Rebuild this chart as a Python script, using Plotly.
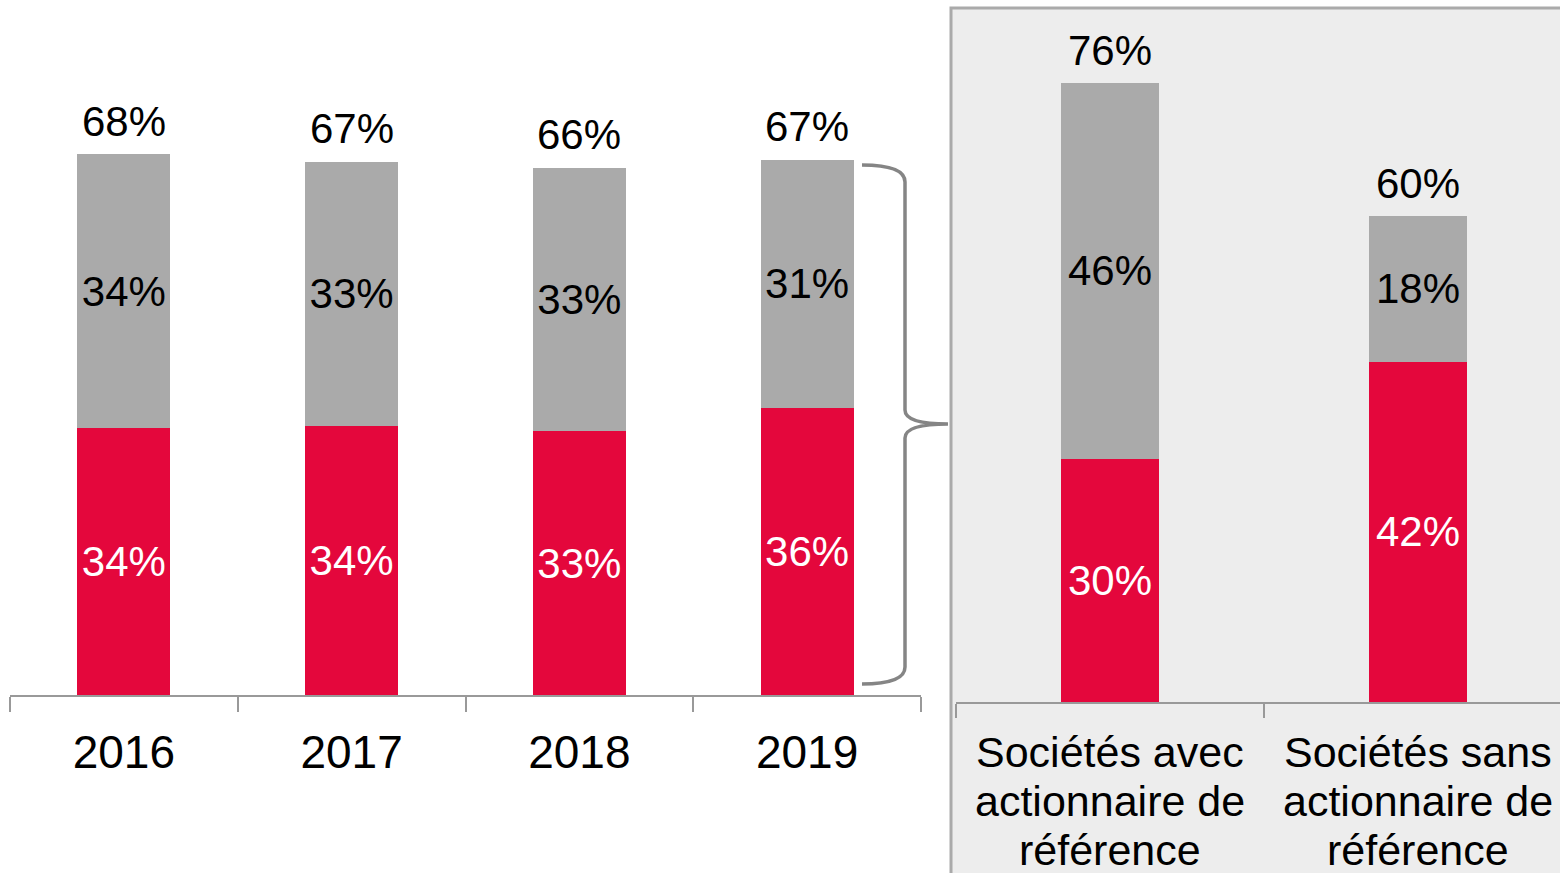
import plotly.graph_objects as go

#######################################
# DATA ################################
#######################################

years = ["2016", "2017", "2018", "2019"]
years_red = [33.6, 33.8, 33.2, 36.1]
years_grey = [34.4, 33.3, 33.1, 31.2]

groups = ["Sociétés avec actionnaire de référence",
          "Sociétés sans actionnaire de référence"]
group_lines = [["Sociétés avec", "actionnaire de", "référence"],
               ["Sociétés sans", "actionnaire de", "référence"]]
groups_red = [29.9, 41.8]
groups_grey = [46.1, 17.9]

RED = "#E4073C"
GREY = "#AAAAAA"
FONT = "Liberation Sans, Arial, sans-serif"

W, H = 1560, 873


def px(x):
    return x / W


def py(y):
    return 1 - y / H


#######################################
# FIGURE ##############################
#######################################

fig = go.Figure()
annotations = []


def add_stack(xs, red, grey, xa, ya, width):
    fig.add_trace(go.Bar(
        x=xs, y=red, xaxis=xa, yaxis=ya, width=width,
        marker=dict(color=RED, line=dict(width=0)),
        texttemplate="%{y:.0f}%", textposition="inside", insidetextanchor="middle",
        textangle=0, textfont=dict(color="white", size=42, family=FONT),
        showlegend=False, hoverinfo="skip",
    ))
    fig.add_trace(go.Bar(
        x=xs, y=grey, xaxis=xa, yaxis=ya, width=width,
        marker=dict(color=GREY, line=dict(width=0)),
        texttemplate="%{y:.0f}%", textposition="inside", insidetextanchor="middle",
        textangle=0, textfont=dict(color="black", size=42, family=FONT),
        showlegend=False, hoverinfo="skip",
    ))
    # totals above each bar (x given as category index)
    for i, (r, g) in enumerate(zip(red, grey)):
        annotations.append(dict(
            x=i, y=r + g, xref=xa, yref=ya, text=f"{r + g:.0f}%",
            showarrow=False, yanchor="middle", yshift=33,
            font=dict(size=42, color="black", family=FONT),
        ))


add_stack(years, years_red, years_grey, "x", "y", 93 / 227.75)
add_stack(groups, groups_red, groups_grey, "x2", "y2", 98 / 308)

# category labels of the right panel, one annotation per line
for k, lines in enumerate(group_lines):
    for i, line in enumerate(lines):
        annotations.append(dict(
            x=k, xref="x2", y=py(752 + 49 * i), yref="paper",
            text=line, showarrow=False, yanchor="middle",
            font=dict(size=43, color="black", family=FONT),
        ))

# curly brace from the 2019 bar to the right panel
brace_pts = [(862, 165), (905, 165), (905, 182), (905, 410), (905, 424), (948, 424),
             (905, 424), (905, 438), (905, 667), (905, 684), (862, 684)]
p = [f"{px(x):.5f},{py(y):.5f}" for x, y in brace_pts]
brace = (f"M {p[0]} Q {p[1]} {p[2]} L {p[3]} Q {p[4]} {p[5]} "
         f"Q {p[6]} {p[7]} L {p[8]} Q {p[9]} {p[10]}")

fig.update_layout(
    width=W, height=H,
    margin=dict(l=0, r=0, t=0, b=0),
    paper_bgcolor="white", plot_bgcolor="rgba(0,0,0,0)",
    barmode="stack",
    font=dict(family=FONT, color="black"),
    xaxis=dict(
        domain=[px(10), px(921)], anchor="y", type="category", range=[-0.5, 3.5],
        showline=True, linecolor="#999999", linewidth=2,
        ticks="outside", tickson="boundaries", ticklen=15, tickwidth=2, tickcolor="#999999",
        tickfont=dict(size=46, family=FONT, color="black"), ticklabelstandoff=16,
        showgrid=False, zeroline=False, fixedrange=True,
    ),
    yaxis=dict(
        domain=[py(695), 1], anchor="x", range=[0, 695 / 7.95],
        visible=False, showgrid=False, fixedrange=True,
    ),
    xaxis2=dict(
        domain=[px(956), 1], anchor="y2", type="category", range=[-0.5, -0.5 + 604 / 308],
        showline=True, linecolor="#999999", linewidth=2,
        ticks="outside", tickson="boundaries", ticklen=14, tickwidth=2, tickcolor="#999999",
        showticklabels=False,
        showgrid=False, zeroline=False, fixedrange=True,
    ),
    yaxis2=dict(
        domain=[py(702), 1], anchor="x2", range=[0, 702 / 8.14],
        visible=False, showgrid=False, fixedrange=True,
    ),
    shapes=[
        dict(type="rect", xref="paper", yref="paper", x0=px(951), x1=px(1575),
             y0=py(890), y1=py(8), fillcolor="#EDEDED",
             line=dict(color="#AAAAAA", width=3), layer="below"),
        dict(type="path", xref="paper", yref="paper", path=brace,
             line=dict(color="#858585", width=3.5)),
    ],
    annotations=annotations,
)

# the page body has a default 8px margin; drop it so the figure fills the window
fig.write_html("out.html", config={"displayModeBar": False},
               post_script="document.body.style.margin='0';")
